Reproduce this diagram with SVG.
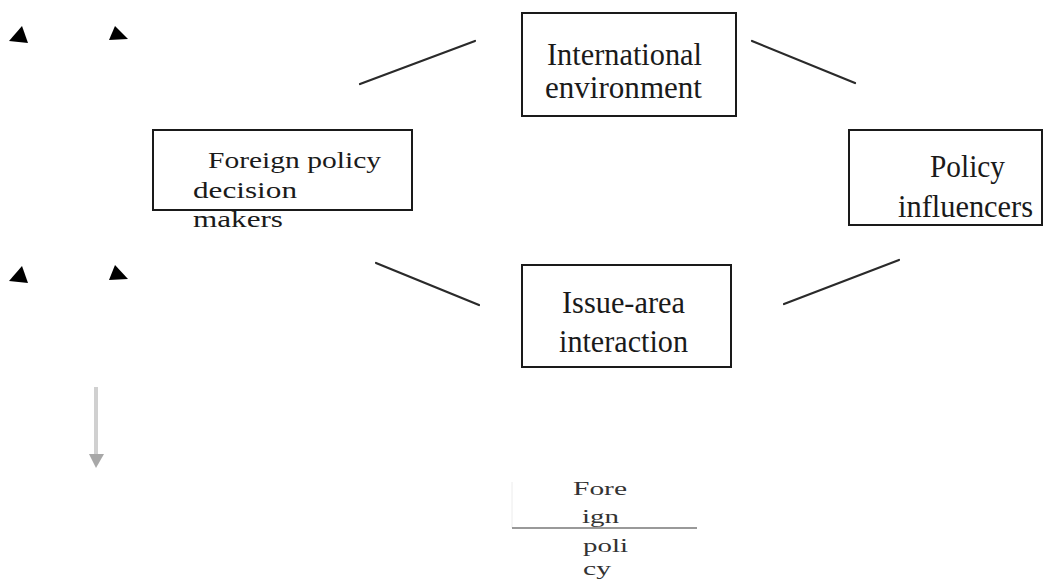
<svg xmlns="http://www.w3.org/2000/svg" width="1044" height="583" viewBox="0 0 1044 583">
<style>
.box{fill:#fff;stroke:#1a1a1a;stroke-width:2}
.conn{stroke:#2a2a2a;stroke-width:2.2;stroke-linecap:round}
.tri{fill:#000}
</style>
<rect width="1044" height="583" fill="#fff"/>
<g id="connectors">
<line class="conn" x1="360" y1="84" x2="475" y2="41"/>
<line class="conn" x1="752" y1="41" x2="855" y2="83"/>
<line class="conn" x1="376" y1="263" x2="479" y2="305"/>
<line class="conn" x1="784" y1="304" x2="899" y2="260"/>
</g>
<g id="markers">
<polygon class="tri" points="22,26 9,41 28,43"/>
<polygon class="tri" points="115,26 109,40 128,39"/>
<polygon class="tri" points="22,266 9,281 28,283"/>
<polygon class="tri" points="115,265 109,280 128,279"/>
</g>
<g id="down-arrow">
<line x1="96" y1="387" x2="96" y2="455" stroke="#d0d0d0" stroke-width="4"/>
<polygon points="89,454 104,454 96,468" fill="#a8a8a8"/>
</g>
<g font-family="Liberation Serif, DejaVu Serif, Times New Roman, serif" fill="#1a1a1a">
<g id="international-environment">
<rect class="box" x="522" y="13" width="214" height="103"/>
<text font-size="31" x="547" y="65" textLength="155" lengthAdjust="spacingAndGlyphs">International</text>
<text font-size="31" x="545" y="98" textLength="157" lengthAdjust="spacingAndGlyphs">environment</text>
</g>
<g id="foreign-policy-decision-makers">
<rect class="box" x="153" y="130" width="259" height="80"/>
<text font-size="23" x="208" y="168" textLength="173" lengthAdjust="spacingAndGlyphs">Foreign policy</text>
<text font-size="23" x="193" y="198" textLength="104" lengthAdjust="spacingAndGlyphs">decision</text>
<text font-size="23" x="193" y="227" textLength="90" lengthAdjust="spacingAndGlyphs">makers</text>
</g>
<g id="policy-influencers">
<rect class="box" x="849" y="130" width="193" height="95"/>
<text font-size="31" x="930" y="177" textLength="75" lengthAdjust="spacingAndGlyphs">Policy</text>
<text font-size="31" x="898" y="217" textLength="135" lengthAdjust="spacingAndGlyphs">influencers</text>
</g>
<g id="issue-area-interaction">
<rect class="box" x="522" y="265" width="209" height="102"/>
<text font-size="31" x="562" y="313" textLength="123" lengthAdjust="spacingAndGlyphs">Issue-area</text>
<text font-size="31" x="559" y="352" textLength="129" lengthAdjust="spacingAndGlyphs">interaction</text>
</g>
<g id="foreign-policy-output" fill="#333">
<line x1="512" y1="482" x2="512" y2="528" stroke="#ececec" stroke-width="1"/>
<line x1="512" y1="528" x2="697" y2="528" stroke="#777" stroke-width="1.5"/>
<text font-size="19" x="573" y="495" textLength="54" lengthAdjust="spacingAndGlyphs">Fore</text>
<text font-size="19" x="582" y="523" textLength="37" lengthAdjust="spacingAndGlyphs">ign</text>
<text font-size="19" x="583" y="552" textLength="45" lengthAdjust="spacingAndGlyphs">poli</text>
<text font-size="19" x="583" y="575" textLength="28" lengthAdjust="spacingAndGlyphs">cy</text>
</g>
</g>
</svg>
